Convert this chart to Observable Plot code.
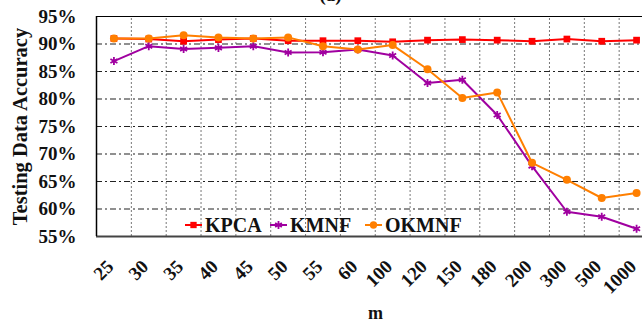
<!DOCTYPE html>
<html>
<head>
<meta charset="utf-8">
<script src="https://cdn.jsdelivr.net/npm/d3@7"></script>
<script src="https://cdn.jsdelivr.net/npm/@observablehq/plot@0.6"></script>
<style>
  html, body { margin: 0; padding: 0; background: white; overflow: hidden; }
  #chart svg { font-family: "Liberation Serif", "Times New Roman", serif; }
</style>
</head>
<body>
<div id="chart"></div>
<script>
const categories = ["25","30","35","40","45","50","55","60","100","120","150","180","200","300","500","1000"];
const kpca  = [91.0, 90.9, 90.5, 90.8, 91.0, 90.6, 90.6, 90.6, 90.4, 90.7, 90.8, 90.7, 90.5, 90.9, 90.5, 90.7];
const kmnf  = [86.9, 89.6, 89.1, 89.3, 89.6, 88.45, 88.5, 89.0, 87.9, 82.9, 83.5, 77.1, 67.8, 59.5, 58.6, 56.4];
const okmnf = [91.0, 91.0, 91.6, 91.2, 91.0, 91.2, 89.6, 89.0, 89.8, 85.4, 80.2, 81.2, 68.4, 65.3, 62.0, 62.9];
const yTicks = [55, 60, 65, 70, 75, 80, 85, 90, 95];
const seriesNames = ["KPCA", "KMNF", "OKMNF"];
const seriesColors = ["#ff0000", "#a000a0", "#ff7f00"];
const seriesSymbols = ["square", "asterisk", "circle"];

const toRows = (vals) => vals.map((v, i) => ({i, v}));
const rowsK = toRows(kpca), rowsM = toRows(kmnf), rowsO = toRows(okmnf);
const idx = categories.map((c, i) => i);
const bounds = idx.slice(1).map(i => i - 0.5);
const font = "Liberation Serif";

const chart = Plot.plot({
  width: 642,
  height: 327,
  marginLeft: 96,
  marginRight: 0,
  marginTop: 16,
  marginBottom: 91,
  style: {fontFamily: font, background: "white", overflow: "hidden"},
  x: {type: "linear", domain: [-0.5, categories.length - 0.5], range: [96, 653.5], axis: null},
  y: {domain: [55, 95], axis: null},
  marks: [
    Plot.ruleX(bounds, {y1: 55, y2: 95, stroke: "#777", strokeWidth: 1, strokeDasharray: "2,2"}),
    Plot.ruleY(yTicks.filter(d => d > 55 && d < 95), {stroke: "#222", strokeWidth: 1.2, strokeDasharray: "6,3,2,3"}),
    Plot.ruleY([95], {stroke: "#000", strokeWidth: 1.2}),
    Plot.ruleY([55], {stroke: "#444", strokeWidth: 2}),
    Plot.ruleX([-0.5], {y1: 55, y2: 95, stroke: "#000", strokeWidth: 1.5}),
    // series
    Plot.line(rowsK, {x: "i", y: "v", stroke: seriesColors[0], strokeWidth: 2}),
    Plot.dot(rowsK, {x: "i", y: "v", symbol: seriesSymbols[0], fill: seriesColors[0], r: 3.8}),
    Plot.line(rowsM, {x: "i", y: "v", stroke: seriesColors[1], strokeWidth: 2}),
    Plot.dot(rowsM, {x: "i", y: "v", symbol: seriesSymbols[1], stroke: seriesColors[1], strokeWidth: 1.8, r: 3.8}),
    Plot.line(rowsO, {x: "i", y: "v", stroke: seriesColors[2], strokeWidth: 2}),
    Plot.dot(rowsO, {x: "i", y: "v", symbol: seriesSymbols[2], fill: seriesColors[2], r: 4}),
    // y tick labels
    Plot.text(yTicks, {x: -0.5, y: d => d, text: d => d + "%", textAnchor: "end", dx: -20, fontSize: 19, fontWeight: "bold", fill: "#111"}),
    // y label
    Plot.text(["Testing Data Accuracy"], {frameAnchor: "left", textAnchor: "middle", dx: -76, rotate: -90, fontSize: 20.5, fontWeight: "bold", fill: "#111"}),
    // x tick labels
    Plot.text(idx, {x: d => d, frameAnchor: "bottom", text: d => categories[d], rotate: -45, textAnchor: "end", lineAnchor: "middle", dx: -3.5, dy: 27, fontSize: 19, fontWeight: "bold", fill: "#111"}),
    // x label
    Plot.text(["m"], {frameAnchor: "bottom", dx: 6, dy: 77, lineAnchor: "middle", fontSize: 18, fontWeight: "bold", fill: "#111"}),
    // partial title (cut by the top edge, as in the reference)
    Plot.text(["(a)"], {frameAnchor: "top", dx: -39, dy: -16, lineAnchor: "bottom", fontSize: 19, fontWeight: "bold", fill: "#111"})
  ]
});

// legend inside the plot
const svg = d3.select(chart);
const leg = svg.append("g").attr("font-family", font).attr("font-weight", "bold").attr("font-size", 20).attr("text-anchor", "start");
const legX = [185, 270, 365];
seriesNames.forEach((name, k) => {
  const x0 = legX[k], y0 = 225;
  leg.append("line").attr("x1", x0).attr("x2", x0 + 17).attr("y1", y0).attr("y2", y0)
    .attr("stroke", seriesColors[k]).attr("stroke-width", 2);
  const sym = d3.symbol().type(k === 0 ? d3.symbolSquare : k === 1 ? d3.symbolAsterisk : d3.symbolCircle).size(k === 0 ? 40 : 42);
  leg.append("path").attr("d", sym()).attr("transform", `translate(${x0 + 8.5},${y0})`)
    .attr("fill", k === 1 ? "none" : seriesColors[k]).attr("stroke", k === 1 ? seriesColors[k] : "none").attr("stroke-width", 1.8);
  leg.append("text").attr("x", x0 + 20).attr("y", y0).attr("dy", "0.35em").attr("fill", "#111").text(name);
});

document.getElementById("chart").appendChild(chart);
</script>
</body>
</html>
